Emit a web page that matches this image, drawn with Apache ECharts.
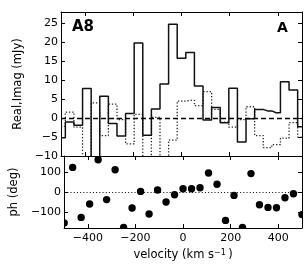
<!DOCTYPE html>
<html><head><meta charset="utf-8">
<script src="https://cdn.jsdelivr.net/npm/echarts@6/dist/echarts.min.js"></script>
<style>html,body{margin:0;padding:0;background:#fff}#c{width:307px;height:277px}</style>
</head><body><div id="c"></div>
<script>
// channel velocities (km/s)
const velocity = [-499.8, -464.1, -428.4, -392.7, -357.0, -321.3, -285.6, -249.9, -214.2, -178.5,
  -142.8, -107.1, -71.4, -35.7, 0, 35.7, 71.4, 107.1, 142.8, 178.5,
  214.2, 249.9, 285.6, 321.3, 357.0, 392.7, 428.4, 464.1, 499.8];
// real part (mJy)
const realFlux = [-5.2, -1.0, -1.9, 7.8, -11.6, 5.8, -1.4, -4.7, 1.2, 19.8,
  -4.5, 2.4, 9.0, 24.8, 15.8, 17.3, 8.5, -0.5, 2.8, -1.2,
  7.9, -6.3, -0.2, 2.3, 1.9, 1.4, 9.6, 7.4, -2.3];
// imaginary part (mJy)
const imagFlux = [-2.2, 1.6, -2.4, -13.5, 4.0, -4.6, 3.7, -0.4, -6.8, 1.0,
  -12.4, 0.2, -10.7, -5.8, 4.5, 4.7, 3.3, 7.0, 2.3, -1.1,
  -2.4, -0.4, 3.0, -4.6, -7.8, -7.0, -5.3, -1.2, -5.0];
// phase (deg)
const phase = [-155, 123, -127, -60, 161, -38, 111, -177, -80, 3,
  -110, 10, -50, -13.5, 16, 16, 21, 95, 39, -142,
  -17, -177, 92, -64, -77, -79, -29, -9, -113];

const xTicks = [-400, -200, 0, 200, 400];
const fluxTicks = [-10, -5, 0, 5, 10, 15, 20, 25];
const phaseTicks = [-100, 0, 100];

const FONT = 'DejaVu Sans';
const fmt = v => String(v).replace('-', '\u2212');

function xAx(g, pos, labels, extra) {
  return Object.assign({
    type: 'value', gridIndex: g, position: pos, min: -500, max: 500,
    axisLine: { show: true, onZero: false, lineStyle: { color: '#000', width: 1 } },
    axisTick: { show: true, inside: true, length: 4, customValues: xTicks, lineStyle: { color: '#000', width: 1 } },
    axisLabel: { show: labels, customValues: xTicks, formatter: fmt, color: '#000', fontFamily: FONT, fontSize: 11, margin: 5 },
    splitLine: { show: false }
  }, extra || {});
}
function yAx(g, pos, labels, min, max, ticks, extra) {
  return Object.assign({
    type: 'value', gridIndex: g, position: pos, min: min, max: max,
    axisLine: { show: true, onZero: false, lineStyle: { color: '#000', width: 1 } },
    axisTick: { show: true, inside: true, length: 4, customValues: ticks, lineStyle: { color: '#000', width: 1 } },
    axisLabel: { show: labels, customValues: ticks, formatter: fmt, color: '#000', fontFamily: FONT, fontSize: 11, margin: 3 },
    splitLine: { show: false }
  }, extra || {});
}

const chart = echarts.init(document.getElementById('c'), null, { renderer: 'canvas' });
chart.setOption({
  animation: false,
  backgroundColor: '#fff',
  grid: [
    { left: 61, right: 5, top: 12, height: 144 },
    { left: 61, right: 5, top: 156, height: 72 }
  ],
  xAxis: [
    xAx(0, 'bottom', false),
    xAx(0, 'top', false),
    xAx(1, 'bottom', true, {
      name: '{t|velocity (km s}{s|\u22121}{t|\u2009)}', nameLocation: 'middle', nameGap: 21,
      nameTextStyle: { color: '#000', fontFamily: FONT, fontSize: 11.5,
        rich: { t: { fontFamily: FONT, fontSize: 11.5, color: '#000', verticalAlign: 'bottom' },
                s: { fontFamily: FONT, fontSize: 8, color: '#000', verticalAlign: 'top' } } }
    }),
    xAx(1, 'top', false)
  ],
  yAxis: [
    yAx(0, 'left', true, -10, 28, fluxTicks, {
      name: 'Real,Imag (mJy)', nameLocation: 'middle', nameGap: 33,
      nameTextStyle: { color: '#000', fontFamily: FONT, fontSize: 11.5 }
    }),
    yAx(0, 'right', false, -10, 28, fluxTicks),
    yAx(1, 'left', true, -180, 180, phaseTicks, {
      name: 'ph (deg)', nameLocation: 'middle', nameGap: 40,
      nameTextStyle: { color: '#000', fontFamily: FONT, fontSize: 11.5 }
    }),
    yAx(1, 'right', false, -180, 180, phaseTicks)
  ],
  series: [
    {
      name: 'Imag', type: 'line', xAxisIndex: 0, yAxisIndex: 0, step: 'middle',
      data: velocity.map((v, i) => [v, imagFlux[i]]),
      symbol: 'none', clip: true,
      lineStyle: { color: '#222', width: 1.3, type: [1.3, 1.9] }
    },
    {
      name: 'Real', type: 'line', xAxisIndex: 0, yAxisIndex: 0, step: 'middle',
      data: velocity.map((v, i) => [v, realFlux[i]]),
      symbol: 'none', clip: true,
      lineStyle: { color: '#111', width: 1.5 },
      markLine: { silent: true, symbol: 'none', label: { show: false },
        lineStyle: { color: '#000', type: [5, 3], width: 1.3 }, data: [{ yAxis: 0 }] }
    },
    {
      name: 'Phase', type: 'custom', xAxisIndex: 2, yAxisIndex: 2, clip: true,
      encode: { x: 0, y: 1 },
      data: velocity.map((v, i) => [v, phase[i]]),
      renderItem: function (params, api) {
        const p = api.coord([api.value(0), api.value(1)]);
        return { type: 'circle', shape: { cx: p[0], cy: p[1], r: 3.7 }, style: { fill: '#000' } };
      },
      markLine: { silent: true, symbol: 'none', label: { show: false },
        lineStyle: { color: '#000', type: [1, 2.2], width: 1 }, data: [{ yAxis: 0 }] }
    }
  ],
  graphic: [
    { type: 'text', left: 72, top: 20, style: { text: 'A8', font: 'bold 15px "DejaVu Sans"', fill: '#000' } },
    { type: 'text', left: 277, top: 21, style: { text: 'A', font: 'bold 14px "DejaVu Sans"', fill: '#000' } }
  ]
});
</script></body></html>
